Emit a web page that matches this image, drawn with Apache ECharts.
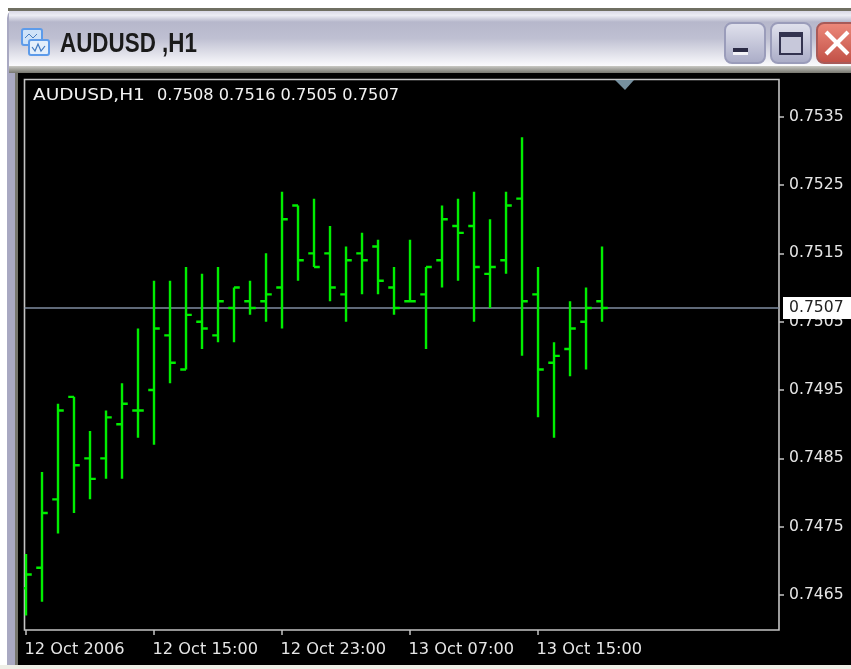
<!DOCTYPE html>
<html><head><meta charset="utf-8">
<style>html,body{margin:0;padding:0;background:#fff;overflow:hidden}#c{width:851px;height:669px;filter:blur(0.4px)}</style>
<script src="https://cdn.jsdelivr.net/npm/echarts@6/dist/echarts.min.js"></script>
</head><body><div id="c"></div>
<script>
const opens=[.7466,.7469,.7479,.7494,.7485,.7485,.7490,.7492,.7495,.7503,.7498,.7505,.7503,.7507,.7508,.7508,.7510,.7522,.7515,.7515,.7509,.7515,.7516,.7510,.7508,.7509,.7514,.7519,.7519,.7512,.7514,.7523,.7509,.7499,.7501,.7505,.7508];
const highs=[.7471,.7483,.7493,.7494,.7489,.7492,.7496,.7504,.7511,.7511,.7513,.7512,.7513,.7510,.7511,.7515,.7524,.7522,.7523,.7519,.7516,.7518,.7517,.7513,.7517,.7513,.7522,.7523,.7524,.7520,.7524,.7532,.7513,.7502,.7508,.7510,.7516];
const lows=[.7462,.7464,.7474,.7477,.7479,.7482,.7482,.7488,.7487,.7496,.7498,.7501,.7502,.7502,.7506,.7505,.7504,.7511,.7513,.7508,.7505,.7509,.7509,.7506,.7508,.7501,.7510,.7511,.7505,.7507,.7512,.7500,.7491,.7488,.7497,.7498,.7505];
const closes=[.7468,.7477,.7492,.7484,.7482,.7491,.7493,.7492,.7504,.7499,.7506,.7504,.7508,.7510,.7507,.7509,.7520,.7514,.7513,.7510,.7514,.7514,.7511,.7507,.7508,.7513,.7520,.7518,.7513,.7513,.7522,.7508,.7498,.7500,.7504,.7507,.7507];
const yTicks=[.7465,.7475,.7485,.7495,.7505,.7515,.7525,.7535];
const xTickIdx=[0,8,16,24,32];
const xTickLabels=['12 Oct 2006','12 Oct 15:00','12 Oct 23:00','13 Oct 07:00','13 Oct 15:00'];
const headerSymbol='AUDUSD,H1';
const headerValues='0.7508 0.7516 0.7505 0.7507';
const windowTitle='AUDUSD ,H1';
const lastPrice=.7507;
const xMin=-0.094, xMax=47.06, yMin=.745988, yMax=.754044;

const font='"DejaVu Sans"';
const data=opens.map((o,i)=>[i,o,highs[i],lows[i],closes[i]]);
const chart=echarts.init(document.getElementById('c'),null,{renderer:'canvas'});

function btn(x,w,c0,c1,stroke){return {type:'rect',shape:{x,y:23,width:w,height:40,r:7},
  style:{fill:new echarts.graphic.LinearGradient(0,0,0,1,[{offset:0,color:c0},{offset:1,color:c1}]),stroke,lineWidth:2}};}
const chrome=[
 {type:'rect',shape:{x:7,y:8,width:844,height:661,r:[10,0,0,0]},style:{fill:'#a9a9c2'}},
 {type:'rect',shape:{x:8,y:8,width:843,height:3},style:{fill:'#6f6f62'}},
 {type:'rect',shape:{x:9,y:11,width:842,height:55},style:{fill:new echarts.graphic.LinearGradient(0,0,0,1,[
   {offset:0,color:'#d9d9e6'},{offset:.08,color:'#ecedf4'},{offset:.2,color:'#b6b7cb'},{offset:.5,color:'#bfc0d2'},{offset:1,color:'#fbfbfd'}])}},
 {type:'rect',shape:{x:9,y:66,width:842,height:7},style:{fill:new echarts.graphic.LinearGradient(0,0,0,1,[{offset:0,color:'#c9c9c4'},{offset:1,color:'#77776f'}])}},
 {type:'rect',shape:{x:15,y:73,width:3,height:592},style:{fill:'#77776f'}},
 {type:'rect',shape:{x:18,y:73,width:833,height:592},style:{fill:'#000'}},
 {type:'rect',shape:{x:0,y:665,width:851,height:4},style:{fill:'#eeeee6'}},
 {type:'rect',shape:{x:22,y:29,width:20,height:16,r:2},style:{fill:'#cfe3f8',stroke:'#5d9bea',lineWidth:2}},
 {type:'polyline',shape:{points:[[25,38],[29,34],[33,38],[37,34]]},style:{fill:null,stroke:'#4a7fc0',lineWidth:1}},
 {type:'rect',shape:{x:29,y:40,width:20,height:15,r:2},style:{fill:'#e4effb',stroke:'#5d9bea',lineWidth:2}},
 {type:'polyline',shape:{points:[[32,47],[35,51],[38,44],[41,51],[45,46]]},style:{fill:null,stroke:'#3f78c0',lineWidth:1.2}},
 {type:'text',x:60,y:45,scaleX:.83,style:{x:0,y:0,text:windowTitle,fill:'#1a1a1a',font:'bold 27px "Liberation Sans"',verticalAlign:'middle'}},
 btn(725,40,'#e2e3ee','#a9abc6','#9a9cba'),
 {type:'rect',shape:{x:733,y:48,width:15,height:7},style:{fill:'#f4f4f8'}},
 {type:'rect',shape:{x:733,y:48,width:15,height:4},style:{fill:'#2b2b45'}},
 btn(771,40,'#e2e3ee','#a9abc6','#9a9cba'),
 {type:'rect',shape:{x:780,y:33,width:22,height:21},style:{fill:'#c7c8da',stroke:'#33334f',lineWidth:2}},
 {type:'rect',shape:{x:779,y:32,width:24,height:5},style:{fill:'#33334f'}},
 btn(817,46,'#ee8a7c','#c04f45','#a85a58'),
 {type:'line',shape:{x1:826,y1:32,x2:848,y2:54},style:{stroke:'#fff',lineWidth:4}},
 {type:'line',shape:{x1:848,y1:32,x2:826,y2:54},style:{stroke:'#fff',lineWidth:4}}
];
const overlays=[
 {type:'rect',shape:{x:24.5,y:79.5,width:754.5,height:550.5},style:{fill:null,stroke:'#c4c4c4',lineWidth:1.6}},
 {type:'polygon',shape:{points:[[615,80],[634,80],[625,90]]},style:{fill:'#76909f'}},
 {type:'text',x:33,y:96,scaleX:1.16,style:{x:0,y:0,text:headerSymbol,fill:'#f2f2f2',font:'16px '+font,verticalAlign:'middle'}},
 {type:'text',x:157,y:96,style:{x:0,y:0,text:headerValues,fill:'#f2f2f2',font:'16.2px '+font,verticalAlign:'middle'}}
];

function renderItem(params,api){
  const i=api.value(0);
  const x=api.coord([i,api.value(1)])[0];
  const yO=api.coord([i,api.value(1)])[1], yH=api.coord([i,api.value(2)])[1],
        yL=api.coord([i,api.value(3)])[1], yC=api.coord([i,api.value(4)])[1];
  const band=api.size([1,0])[0], t=band*0.36;
  const style={stroke:'#00ee00',lineWidth:2.4,fill:null};
  return {type:'group',children:[
    {type:'line',shape:{x1:x,y1:yH,x2:x,y2:yL},style},
    {type:'line',shape:{x1:x-t,y1:yO,x2:x,y2:yO},style},
    {type:'line',shape:{x1:x,y1:yC,x2:x+t,y2:yC},style}
  ]};
}

chart.setOption({
  animation:false,
  backgroundColor:'#fff',
  graphic:[{type:'group',z:-10,children:chrome},{type:'group',z:100,children:overlays}],
  grid:{left:24.5,right:72,top:79.5,bottom:39,show:false},
  xAxis:{type:'value',min:xMin,max:xMax,splitLine:{show:false},
    axisLine:{show:false,onZero:false},
    axisTick:{show:true,length:5,customValues:xTickIdx,lineStyle:{color:'#c4c4c4',width:1.5}},
    axisLabel:{customValues:xTickIdx,color:'#e6e6e6',fontFamily:font,fontSize:16.2,align:'left',margin:12,padding:[0,0,0,-1.5],
      formatter:v=>xTickLabels[xTickIdx.indexOf(Math.round(v))]||'',hideOverlap:false}},
  yAxis:{type:'value',position:'right',min:yMin,max:yMax,splitLine:{show:false},
    axisLine:{show:false,onZero:false},
    axisTick:{show:true,length:5,customValues:yTicks,lineStyle:{color:'#c4c4c4',width:1.5}},
    axisLabel:{customValues:yTicks,color:'#e6e6e6',fontFamily:font,fontSize:15.6,margin:10,
      formatter:v=>v.toFixed(4),hideOverlap:false}},
  series:[
   {type:'line',data:[[xMin,lastPrice],[xMax,lastPrice]],symbol:'none',silent:true,z:2,clip:false,
    lineStyle:{color:'#7f8da0',width:1.6},
    endLabel:{show:true,distance:4,formatter:()=>lastPrice.toFixed(4),color:'#222',backgroundColor:'#fff',
      fontFamily:font,fontSize:15.6,padding:[3,10,3,6]}},
   {type:'custom',clip:true,renderItem,data,encode:{x:0,y:[1,2,3,4]},silent:true,z:3}
  ]
});
</script></body></html>
